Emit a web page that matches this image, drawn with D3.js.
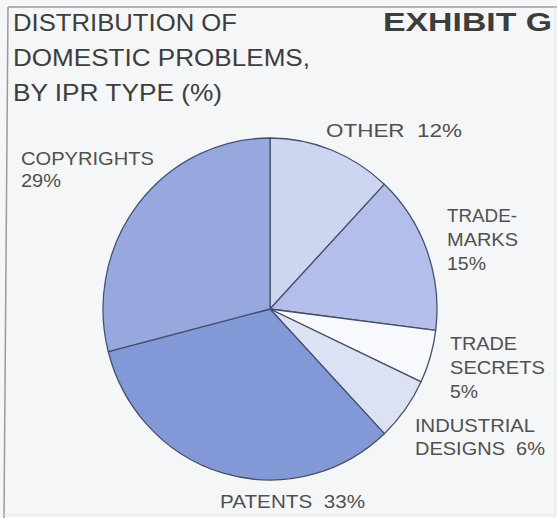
<!DOCTYPE html>
<html>
<head>
<meta charset="utf-8">
<script src="https://cdn.jsdelivr.net/npm/d3@7"></script>
<style>
  html, body { margin: 0; padding: 0; background: #f5f6f7; }
  svg { display: block; }
  text { font-family: "Liberation Sans", Arial, Helvetica, sans-serif; }
</style>
</head>
<body>
<svg id="chart" width="557" height="518"></svg>
<script>
// IPR problem categories, clockwise from 12 o'clock
const categories = ["OTHER", "TRADEMARKS", "TRADE SECRETS", "INDUSTRIAL DESIGNS", "PATENTS", "COPYRIGHTS"];
const values = [12, 15, 5, 6, 33, 29];
const sliceColors = ["#cdd5f0", "#b3bfea", "#f8f9fc", "#dce1f4", "#8399d7", "#97a8de"];

// title block
const titleLines = ["DISTRIBUTION OF", "DOMESTIC PROBLEMS,", "BY IPR TYPE (%)"];
const exhibitLabel = "EXHIBIT G";

// label text lines per category; the flagged line carries the percentage
const labelLines = {
  "OTHER": [["OTHER", true]],
  "TRADEMARKS": [["TRADE-"], ["MARKS"], ["", true]],
  "TRADE SECRETS": [["TRADE"], ["SECRETS"], ["", true]],
  "INDUSTRIAL DESIGNS": [["INDUSTRIAL"], ["DESIGNS", true]],
  "PATENTS": [["PATENTS", true]],
  "COPYRIGHTS": [["COPYRIGHTS"], ["", true]]
};

// label placement: left x, first baseline, line step, and line widths
const labelLayout = {
  "OTHER":              { x: 326, y: 137, dy: 0,  w: [136] },
  "TRADEMARKS":         { x: 447, y: 222, dy: 24, w: [70, 71, 39] },
  "TRADE SECRETS":      { x: 450, y: 350, dy: 24, w: [67, 95, 28] },
  "INDUSTRIAL DESIGNS": { x: 415, y: 432, dy: 23, w: [120, 130] },
  "PATENTS":            { x: 220, y: 508, dy: 0,  w: [145] },
  "COPYRIGHTS":         { x: 21,  y: 165, dy: 22, w: [133, 40] }
};

const svg = d3.select("#chart");

// frame (left and top rules)
svg.append("path")
  .attr("d", "M8,7 L557,7")
  .attr("stroke", "#9a9a9a").attr("stroke-width", 1.5).attr("fill", "none");
svg.append("path")
  .attr("d", "M8,7 L4,518")
  .attr("stroke", "#9a9a9a").attr("stroke-width", 1.5).attr("fill", "none");
svg.append("path")
  .attr("d", "M555,7 L555,515 L4,515")
  .attr("stroke", "#e2e4e6").attr("stroke-width", 1).attr("fill", "none");

// title
const titleSizes = [224, 297, 209];
svg.append("g").selectAll("text")
  .data(titleLines)
  .join("text")
  .attr("x", 13)
  .attr("y", (d, i) => 31 + i * 35)
  .attr("font-size", 24.5)
  .attr("fill", "#3d3d3d")
  .attr("textLength", (d, i) => titleSizes[i])
  .attr("lengthAdjust", "spacingAndGlyphs")
  .text(d => d);

svg.append("text")
  .attr("x", 383).attr("y", 31)
  .attr("font-size", 26)
  .attr("font-weight", "bold")
  .attr("fill", "#3d3d3d")
  .attr("textLength", 169)
  .attr("lengthAdjust", "spacingAndGlyphs")
  .text(exhibitLabel);

// pie
const cx = 270, cy = 309, rx = 167, ry = 171;
const data = categories.map((c, i) => ({ cat: c, value: values[i], color: sliceColors[i] }));
const pie = d3.pie().sort(null).value(d => d.value).startAngle(0).endAngle(2 * Math.PI);
const arc = d3.arc().innerRadius(0).outerRadius(ry);

const pieG = svg.append("g")
  .attr("transform", `translate(${cx},${cy}) scale(${rx / ry},1)`);

pieG.selectAll("path")
  .data(pie(data))
  .join("path")
  .attr("d", arc)
  .attr("fill", d => d.data.color)
  .attr("stroke", "#44506b")
  .attr("stroke-width", 1.3)
  .attr("stroke-linejoin", "round");

// slice labels
const fmt = v => v + "%";
data.forEach(d => {
  const lay = labelLayout[d.cat];
  const lines = labelLines[d.cat].map(([txt, withPct]) =>
    withPct ? (txt ? txt + "\u00a0\u00a0" + fmt(d.value) : fmt(d.value)) : txt);
  svg.append("g").selectAll("text")
    .data(lines)
    .join("text")
    .attr("x", lay.x)
    .attr("y", (t, i) => lay.y + i * lay.dy)
    .attr("font-size", 18)
    .attr("fill", "#505050")
    .attr("textLength", (t, i) => lay.w[i])
    .attr("lengthAdjust", "spacingAndGlyphs")
    .text(t => t);
});
</script>
</body>
</html>
